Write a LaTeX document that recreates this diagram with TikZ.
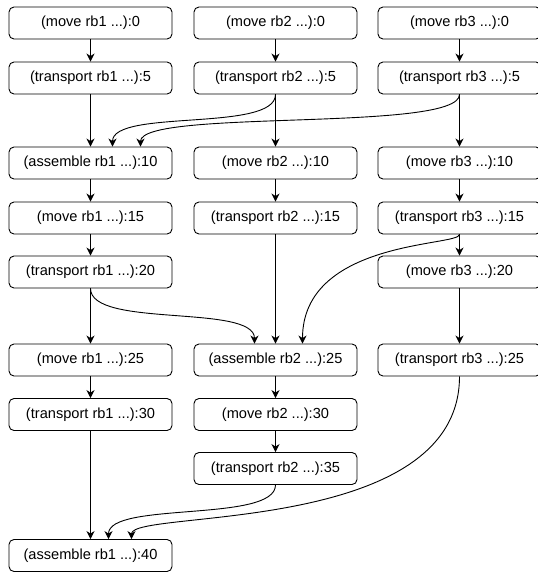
\documentclass[tikz,border=0pt]{standalone}
\usepackage{fontspec}
\setmainfont{Liberation Sans}
\usepackage{xcolor}
\usetikzlibrary{arrows.meta}
\definecolor{ink}{HTML}{000000}
\tikzset{
  task/.style={draw=ink, line width=0.9pt, rounded corners=5pt, minimum width=163pt,
    minimum height=32pt, inner sep=0pt, font=\fontsize{14.6}{17}\selectfont},
  flow/.style={draw=ink, line width=0.9pt, -{Stealth[length=8pt,width=8pt,inset=2.5pt]}},
}

\begin{document}
\begin{tikzpicture}[x=1pt, y=-1pt]
  \useasboundingbox (0,0) rectangle (538,574);

  % column rb1
  \node[task] (m1a) at (90.5,23) {(move rb1 ...):0};
  \node[task] (t1a) at (90.5,78) {(transport rb1 ...):5};
  \node[task] (a1a) at (90.5,163) {(assemble rb1 ...):10};
  \node[task] (m1b) at (90.5,218) {(move rb1 ...):15};
  \node[task] (t1b) at (90.5,272) {(transport rb1 ...):20};
  \node[task] (m1c) at (90.5,360) {(move rb1 ...):25};
  \node[task] (t1c) at (90.5,414.5) {(transport rb1 ...):30};
  \node[task] (a1b) at (90.5,555.5) {(assemble rb1 ...):40};

  % column rb2
  \node[task] (m2a) at (275.5,23) {(move rb2 ...):0};
  \node[task] (t2a) at (275.5,78) {(transport rb2 ...):5};
  \node[task] (m2b) at (275.5,163) {(move rb2 ...):10};
  \node[task] (t2b) at (275.5,218) {(transport rb2 ...):15};
  \node[task] (a2a) at (275.5,360) {(assemble rb2 ...):25};
  \node[task] (m2c) at (275.5,414.5) {(move rb2 ...):30};
  \node[task] (t2c) at (275.5,468.5) {(transport rb2 ...):35};

  % column rb3
  \node[task] (m3a) at (459.5,23) {(move rb3 ...):0};
  \node[task] (t3a) at (459.5,78) {(transport rb3 ...):5};
  \node[task] (m3b) at (459.5,163) {(move rb3 ...):10};
  \node[task] (t3b) at (459.5,218) {(transport rb3 ...):15};
  \node[task] (m3c) at (459.5,272) {(move rb3 ...):20};
  \node[task] (t3c) at (459.5,360) {(transport rb3 ...):25};

  % straight links
  \foreach \a/\b in {m1a/t1a, t1a/a1a, a1a/m1b, m1b/t1b, t1b/m1c, m1c/t1c, t1c/a1b,
                     m2a/t2a, t2a/m2b, m2b/t2b, t2b/a2a, a2a/m2c, m2c/t2c,
                     m3a/t3a, t3a/m3b, m3b/t3b, t3b/m3c, m3c/t3c}
    \draw[flow] (\a) -- (\b);

  % joins
  \draw[flow] (t2a.south) .. controls +(0,38) and +(0,-38) .. ([xshift=22pt]a1a.north);
  \draw[flow] (t3a.south) .. controls +(0,38) and +(0,-38) .. ([xshift=50pt]a1a.north);
  \draw[flow] (t1b.south) .. controls +(0,40) and +(0,-40) .. ([xshift=-21pt]a2a.north);
  \draw[flow] (t3b.south) .. controls +(0,12) and +(0,-104) .. ([xshift=27pt]a2a.north);
  \draw[flow] (t2c.south) .. controls +(0,38) and +(0,-38) .. ([xshift=18pt]a1b.north);
  \draw[flow] (t3c.south) .. controls +(0,160) and +(0,-30) .. ([xshift=41pt]a1b.north);
\end{tikzpicture}
\end{document}
